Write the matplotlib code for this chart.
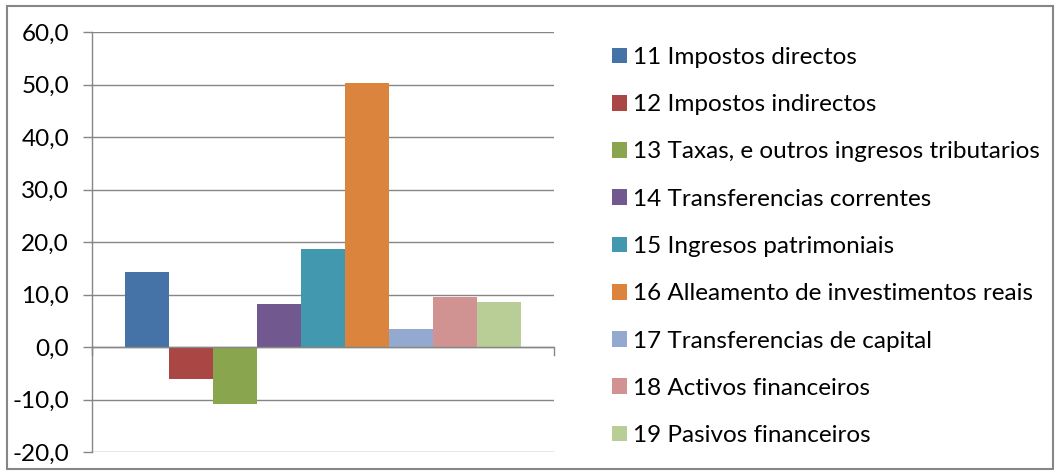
import matplotlib
matplotlib.use("Agg")
import matplotlib.pyplot as plt
from matplotlib.patches import Rectangle, Patch
from matplotlib.ticker import FuncFormatter, MultipleLocator

plt.rcParams['font.family'] = ['Lato', 'DejaVu Sans']

# Datos
categorias = ['11 Impostos directos', '12 Impostos indirectos',
              '13 Taxas, e outros ingresos tributarios',
              '14 Transferencias correntes', '15 Ingresos patrimoniais',
              '16 Alleamento de investimentos reais',
              '17 Transferencias de capital', '18 Activos financeiros',
              '19 Pasivos financeiros']
valores = [14.3, -6.1, -10.9, 8.1, 18.7, 50.3, 3.5, 9.6, 8.5]
cores = ['#4572A7', '#AA4643', '#89A54E', '#71588F', '#4198AF',
         '#DB843D', '#93A9CF', '#D19392', '#B9CD96']

gris = '#868686'
fs = 17.5

fig = plt.figure(figsize=(10.6, 4.74), dpi=100)
fig.patches.append(Rectangle((7 / 1060, 5 / 474), 1046 / 1060, 463 / 474,
                             transform=fig.transFigure, fill=False,
                             edgecolor=gris, linewidth=1.5))

ax = fig.add_axes([92 / 1060, 22 / 474, 462 / 1060, 420 / 474])
x = list(range(len(valores)))
ax.bar(x, valores, width=1.0, color=cores, zorder=3)
ax.set_xlim(-1.24, 9.24)
ax.set_ylim(-20, 60)

ax.yaxis.set_major_locator(MultipleLocator(10))
ax.yaxis.set_major_formatter(FuncFormatter(lambda v, p: f'{v:.1f}'.replace('.', ',')))
ax.grid(axis='y', color=gris, linewidth=1.0, zorder=0)
ax.axhline(0, color=gris, linewidth=1.0, zorder=4)
ax.set_xticks([])
for s in ['top', 'right', 'bottom']:
    ax.spines[s].set_visible(False)
ax.spines['left'].set_color(gris)
ax.spines['left'].set_linewidth(1.0)
ax.tick_params(axis='y', length=6.5, width=1.0, color=gris, pad=10, labelsize=fs)
# marcas nos extremos do eixo de categorías
for xe in ax.get_xlim():
    ax.plot([xe, xe], [0, -1.5], color=gris, linewidth=1.0, clip_on=False, zorder=4)

handles = [Patch(facecolor=c, edgecolor='none') for c in cores]
fig.legend(handles, categorias, loc='upper left',
           bbox_to_anchor=(612 / 1060, 1 - 47 / 474), frameon=False,
           fontsize=fs, handlelength=0.62, handleheight=0.62,
           handletextpad=0.25, labelspacing=1.08, borderaxespad=0, borderpad=0)

fig.savefig('out.png', dpi=100)
